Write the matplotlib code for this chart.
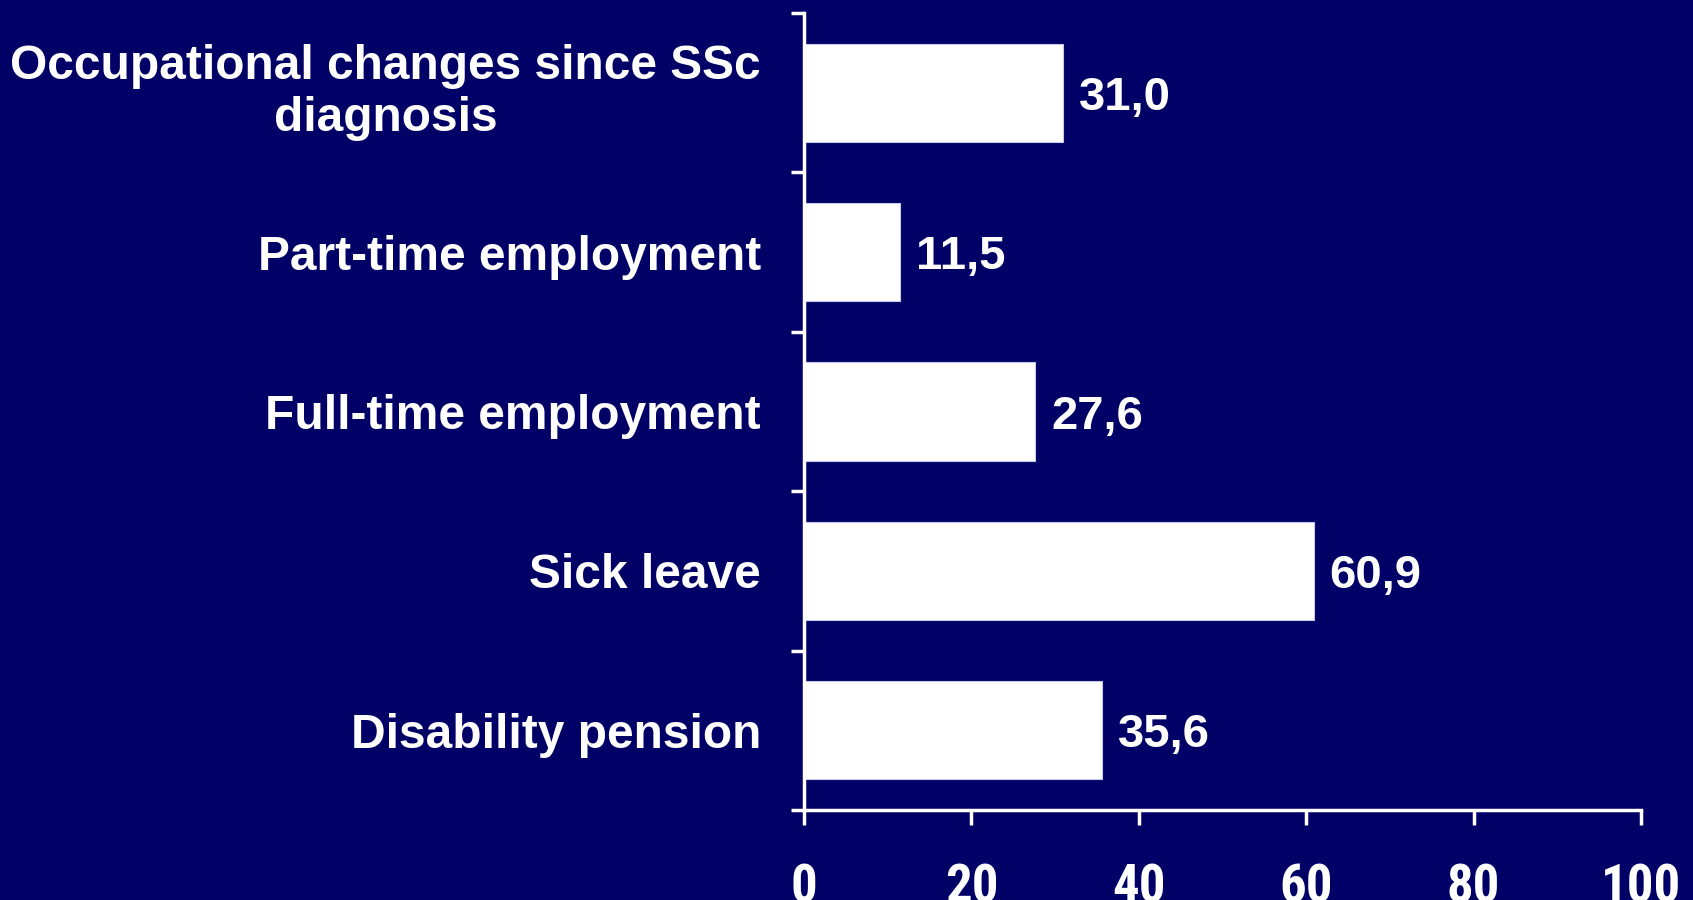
import numpy as np
import matplotlib.pyplot as plt

# Occupational status of patients (percent)
categories = ["Occupational changes since SSc\ndiagnosis",
              "Part-time employment",
              "Full-time employment",
              "Sick leave",
              "Disability pension"]
percent = [31.0, 11.5, 27.6, 60.9, 35.6]
x_ticks = [0, 20, 40, 60, 80, 100]

BG = '#000066'
FG = 'white'

plt.rcParams['font.family'] = ['Liberation Sans', 'DejaVu Sans']
plt.rcParams['font.weight'] = 'bold'

fig = plt.figure(figsize=(16.93, 9.0), dpi=100, facecolor=BG)
ax = fig.add_axes([804 / 1693, 0.1, (1641 - 804) / 1693, (810 - 13) / 900])
ax.set_facecolor(BG)

# first category on top
ypos = np.arange(len(categories))[::-1]
ax.barh(ypos, percent, height=0.615, color=FG, edgecolor='#c8c8e8', linewidth=0.8)

for y, v in zip(ypos, percent):
    ax.annotate(f"{v:.1f}".replace('.', ','), xy=(v, y), xytext=(11.5, 0),
                textcoords='offset points', ha='left', va='center_baseline',
                color=FG, fontsize=34, fontweight='bold')

ax.set_xlim(0, 100)
ax.set_ylim(-0.5, len(categories) - 0.5)

# major ticks sit between categories, names go on the minor ticks
ax.set_yticks(np.arange(-0.5, len(categories), 1.0))
ax.set_yticklabels([])
ax.set_yticks(ypos, minor=True)
ax.set_yticklabels(categories, minor=True, fontsize=34.5, color=FG, fontweight='bold')
ax.tick_params(axis='y', which='minor', length=0, pad=31)
ax.tick_params(axis='y', which='major', direction='out', length=9.5, width=2.5, color=FG)
for lab in ax.get_yticklabels(minor=True):
    lab.set_multialignment('center')
    lab.set_linespacing(1.2)
    if '\n' in lab.get_text():
        lab.set_verticalalignment('center')

# narrow digits on the x axis
ax.set_xticks(x_ticks)
ax.set_xticklabels([str(t) for t in x_ticks], fontsize=38, color=FG, fontweight='bold',
                   family=['Liberation Sans Narrow', 'Roboto Condensed', 'Liberation Sans'])
ax.tick_params(axis='x', direction='out', length=10.5, width=2.5, color=FG, pad=27)

for side in ['top', 'right']:
    ax.spines[side].set_visible(False)
for side in ['left', 'bottom']:
    ax.spines[side].set_color(FG)
    ax.spines[side].set_linewidth(2.5)

fig.savefig('out.png', dpi=100, facecolor=BG)
